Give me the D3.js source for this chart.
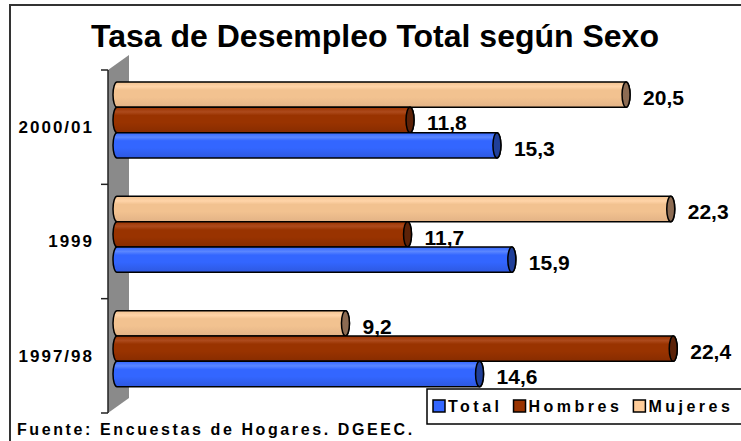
<!DOCTYPE html>
<html>
<head>
<meta charset="utf-8">
<script src="https://cdn.jsdelivr.net/npm/d3@7"></script>
<style>
  body { margin: 0; background: #fff; }
  text { font-family: "Liberation Sans", Arial, sans-serif; font-weight: bold; fill: #000; }
</style>
</head>
<body>
<div id="chart"></div>
<script>
const width = 741;
const height = 441;

// data
const categories = ["2000/01", "1999", "1997/98"];
const seriesNames = ["Mujeres", "Hombres", "Total"];
const mujeres = [20.5, 22.3, 9.2];
const hombres = [11.8, 11.7, 22.4];
const total = [15.3, 15.9, 14.6];
const legendOrder = ["Total", "Hombres", "Mujeres"];

const valuesBySeries = { Mujeres: mujeres, Hombres: hombres, Total: total };

const colors = {
  Total: { base: "#3366ff", swatch: "#3366ff", light: "#5a86ff", dark: "#2d58e0", cap: "#203f99" },
  Hombres: { base: "#993300", swatch: "#993300", light: "#ad4a1c", dark: "#872c00", cap: "#5c2208" },
  Mujeres: { base: "#f2c290", swatch: "#ffcc99", light: "#ffd4a8", dark: "#e3b386", cap: "#8c6b52" },
};

const locale = d3.formatLocale({ decimal: ",", thousands: ".", grouping: [3], currency: ["", ""] });
const fmt = locale.format(".1f");

const svg = d3
  .select("#chart")
  .append("svg")
  .attr("width", width)
  .attr("height", height)
  .attr("viewBox", [0, 0, width, height]);

// gradients for the cylinders
const defs = svg.append("defs");
for (let s of seriesNames) {
  const c = colors[s];
  const g = defs
    .append("linearGradient")
    .attr("id", "grad-" + s)
    .attr("x1", 0).attr("y1", 0).attr("x2", 0).attr("y2", 1);
  g.append("stop").attr("offset", "0%").attr("stop-color", c.base);
  g.append("stop").attr("offset", "18%").attr("stop-color", c.light);
  g.append("stop").attr("offset", "32%").attr("stop-color", c.base);
  g.append("stop").attr("offset", "60%").attr("stop-color", c.base);
  g.append("stop").attr("offset", "100%").attr("stop-color", c.dark);
}

// outer frame
svg
  .append("rect")
  .attr("x", 10)
  .attr("y", 5)
  .attr("width", width + 10)
  .attr("height", height + 10)
  .attr("fill", "none")
  .attr("stroke", "#333")
  .attr("stroke-width", 2);

// title
svg
  .append("text")
  .attr("x", 375)
  .attr("y", 47)
  .attr("text-anchor", "middle")
  .style("font-size", "32px")
  .text("Tasa de Desempleo Total según Sexo");

const x = d3.scaleLinear().domain([0, 25]).range([117, 737.8]);

const y = d3.scaleBand().domain(categories).range([70, 413]);

const ySub = d3.scaleBand().domain(seriesNames).range([12, 88]);

const depth = { dx: 21, dy: -15 };

// side wall (3D)
const [wTop, wBot] = y.range();
const wallX = 108;
svg
  .append("path")
  .attr(
    "d",
    `M${wallX},${wTop} L${wallX + depth.dx},${wTop + depth.dy} L${wallX + depth.dx},${wBot + depth.dy} L${wallX},${wBot} Z`
  )
  .attr("fill", "#8a8a8a");

// category axis
svg
  .append("g")
  .attr("transform", `translate(${wallX},0)`)
  .call((g) => {
    g.append("line")
      .attr("y1", wTop)
      .attr("y2", wBot)
      .attr("stroke", "#222")
      .attr("stroke-width", 1.5);
    const ticks = categories.map((c) => y(c)).concat([wBot]);
    g.selectAll(".tick")
      .data(ticks)
      .join("line")
      .attr("x1", -7)
      .attr("x2", 0)
      .attr("y1", (d) => d)
      .attr("y2", (d) => d)
      .attr("stroke", "#222")
      .attr("stroke-width", 1.5);
    g.selectAll(".cat")
      .data(categories)
      .join("text")
      .attr("x", -14)
      .attr("y", (d) => y(d) + y.bandwidth() / 2)
      .attr("dy", "0.35em")
      .attr("text-anchor", "end")
      .style("font-size", "17px")
      .style("letter-spacing", "2px")
      .text((d) => d);
  });

// cylinder bars
const rx = 4;
function cylinder(x0, x1, top, h) {
  const ry = h / 2;
  return `M${x0},${top} L${x1},${top} A${rx},${ry} 0 0 1 ${x1},${top + h} L${x0},${top + h} A${rx},${ry} 0 0 1 ${x0},${top} Z`;
}

categories.forEach((cat, i) => {
  const g = svg.append("g").attr("class", "group");
  for (let s of seriesNames) {
    const v = valuesBySeries[s][i];
    const top = y(cat) + ySub(s);
    const h = ySub.bandwidth();
    g.append("path")
      .attr("d", cylinder(x(0), x(v), top, h))
      .attr("fill", `url(#grad-${s})`)
      .attr("stroke", "#000")
      .attr("stroke-width", 1.5);
    g.append("ellipse")
      .attr("cx", x(v))
      .attr("cy", top + h / 2)
      .attr("rx", rx)
      .attr("ry", h / 2)
      .attr("fill", colors[s].cap)
      .attr("stroke", "#000")
      .attr("stroke-width", 1.5);
  }
  for (let s of seriesNames) {
    const v = valuesBySeries[s][i];
    g.append("text")
      .attr("x", x(v) + rx + 13)
      .attr("y", y(cat) + ySub(s) + ySub.bandwidth() / 2 + 3)
      .attr("dy", "0.35em")
      .style("font-size", "21px")
      .text(fmt(v));
  }
});

// legend
const legend = svg.append("g").attr("transform", "translate(427,389)");
legend
  .append("rect")
  .attr("width", 330)
  .attr("height", 35)
  .attr("fill", "#fff")
  .attr("stroke", "#000")
  .attr("stroke-width", 1.5);

let lx = 6;
for (let s of legendOrder) {
  legend
    .append("rect")
    .attr("x", lx)
    .attr("y", 11)
    .attr("width", 12)
    .attr("height", 12)
    .attr("fill", colors[s].swatch)
    .attr("stroke", "#000")
    .attr("stroke-width", 1.5);
  const t = legend
    .append("text")
    .attr("x", lx + 15)
    .attr("y", 17)
    .attr("dy", "0.35em")
    .style("font-size", "16px")
    .style("letter-spacing", "3.5px")
    .text(s);
  lx += 15 + t.node().getComputedTextLength() + 11;
}

// source note
svg
  .append("text")
  .attr("x", 17)
  .attr("y", 435)
  .style("font-size", "16px")
  .style("letter-spacing", "2.6px")
  .text("Fuente: Encuestas de Hogares. DGEEC.");
</script>
</body>
</html>
